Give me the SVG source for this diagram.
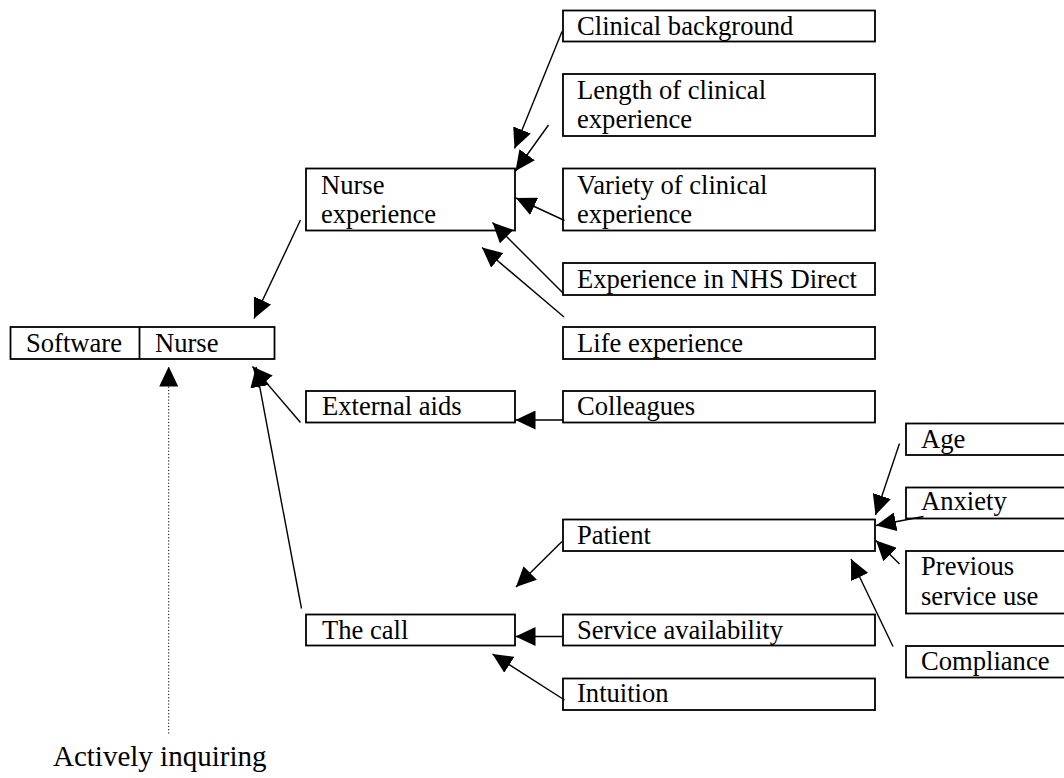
<svg xmlns="http://www.w3.org/2000/svg" width="1064" height="778" viewBox="0 0 1064 778">
<style>
.box{fill:#fff;stroke:#000;stroke-width:1.8}
.t{font-family:"Liberation Serif","Times New Roman",serif;font-size:26.6px;fill:#000}
.c{stroke:#000;stroke-width:1.4;fill:none}
.d{stroke:#000;stroke-width:1;stroke-dasharray:1.2,2;fill:none}
</style>
<defs>
<marker id="ah" markerUnits="userSpaceOnUse" markerWidth="20" markerHeight="19" refX="20" refY="9.5" orient="auto" viewBox="0 0 20 19">
<path d="M0,0 L20,9.5 L0,19 z" fill="#000"/>
</marker>
</defs>
<rect width="1064" height="778" fill="#fff"/>

<g id="software-nurse">
<rect class="box" x="10.5" y="327" width="264" height="32"/>
<line x1="139.5" y1="327" x2="139.5" y2="359" stroke="#000" stroke-width="1.8"/>
<text class="t" x="26" y="351.5">Software</text>
<text class="t" x="155" y="351.5">Nurse</text>
</g>
<g id="nurse-experience">
<rect class="box" x="306" y="168.5" width="209" height="62"/>
<text class="t" x="321" y="194">Nurse</text>
<text class="t" x="321" y="223">experience</text>
</g>
<g id="clinical-background">
<rect class="box" x="563" y="10.5" width="312" height="31"/>
<text class="t" x="577" y="34.5">Clinical background</text>
</g>
<g id="length-clinical">
<rect class="box" x="563" y="74" width="312" height="62"/>
<text class="t" x="577" y="98.5">Length of clinical</text>
<text class="t" x="577" y="127.5">experience</text>
</g>
<g id="variety-clinical">
<rect class="box" x="563" y="168.5" width="312" height="62"/>
<text class="t" x="577" y="193.5">Variety of clinical</text>
<text class="t" x="577" y="222.5">experience</text>
</g>
<g id="experience-nhs">
<rect class="box" x="563" y="263" width="312" height="32"/>
<text class="t" x="577" y="287.5">Experience in NHS Direct</text>
</g>
<g id="life-experience">
<rect class="box" x="563" y="327" width="312" height="32"/>
<text class="t" x="577" y="351.5">Life experience</text>
</g>
<g id="external-aids">
<rect class="box" x="306" y="391" width="209" height="31.5"/>
<text class="t" x="322" y="415">External aids</text>
</g>
<g id="colleagues">
<rect class="box" x="563" y="391" width="312" height="31.5"/>
<text class="t" x="577" y="415">Colleagues</text>
</g>
<g id="age">
<rect class="box" x="906" y="423.5" width="170" height="31.5"/>
<text class="t" x="921" y="448">Age</text>
</g>
<g id="anxiety">
<rect class="box" x="906" y="487.5" width="170" height="31"/>
<text class="t" x="921" y="510">Anxiety</text>
</g>
<g id="patient">
<rect class="box" x="563" y="519.5" width="312" height="31.5"/>
<text class="t" x="577" y="543.5">Patient</text>
</g>
<g id="previous-service-use">
<rect class="box" x="906" y="551" width="170" height="62.5"/>
<text class="t" x="921" y="575">Previous</text>
<text class="t" x="921" y="605">service use</text>
</g>
<g id="the-call">
<rect class="box" x="306" y="614.5" width="209" height="31"/>
<text class="t" x="322" y="638.5">The call</text>
</g>
<g id="service-availability">
<rect class="box" x="563" y="614.5" width="312" height="31"/>
<text class="t" x="577" y="638.5">Service availability</text>
</g>
<g id="compliance">
<rect class="box" x="906" y="646" width="170" height="31.5"/>
<text class="t" x="921" y="670">Compliance</text>
</g>
<g id="intuition">
<rect class="box" x="563" y="678.5" width="312" height="31.5"/>
<text class="t" x="577" y="702">Intuition</text>
</g>
<g id="actively-inquiring">
<text class="t" x="53" y="766" style="font-size:29px">Actively inquiring</text>
</g>

<g id="connectors">
<line class="c" x1="562" y1="31.5" x2="514.5" y2="148.5" marker-end="url(#ah)"/>
<line class="c" x1="548.5" y1="125" x2="515.5" y2="171" marker-end="url(#ah)"/>
<line class="c" x1="564.5" y1="220.5" x2="516" y2="198" marker-end="url(#ah)"/>
<line class="c" x1="563" y1="293" x2="492.5" y2="222.5" marker-end="url(#ah)"/>
<line class="c" x1="564" y1="317" x2="482" y2="247.5" marker-end="url(#ah)"/>
<line class="c" x1="300.5" y1="220" x2="254" y2="318.5" marker-end="url(#ah)"/>
<line class="c" x1="300.5" y1="422.5" x2="252.5" y2="366.5" marker-end="url(#ah)"/>
<line class="c" x1="301.5" y1="608.5" x2="256" y2="367" marker-end="url(#ah)"/>
<line class="d" x1="168.7" y1="733.5" x2="168.7" y2="366.5" marker-end="url(#ah)"/>
<line class="c" x1="563" y1="420" x2="515.5" y2="420" marker-end="url(#ah)"/>
<line class="c" x1="562" y1="541.5" x2="516" y2="587" marker-end="url(#ah)"/>
<line class="c" x1="563" y1="636.5" x2="515.5" y2="636.5" marker-end="url(#ah)"/>
<line class="c" x1="564.5" y1="700" x2="492.5" y2="654" marker-end="url(#ah)"/>
<line class="c" x1="899.5" y1="443.5" x2="875.5" y2="515" marker-end="url(#ah)"/>
<line class="c" x1="923.5" y1="516.5" x2="876" y2="525.5" marker-end="url(#ah)"/>
<line class="c" x1="899.5" y1="564" x2="876" y2="540.5" marker-end="url(#ah)"/>
<line class="c" x1="893" y1="646.5" x2="851" y2="559" marker-end="url(#ah)"/>
</g>
</svg>
